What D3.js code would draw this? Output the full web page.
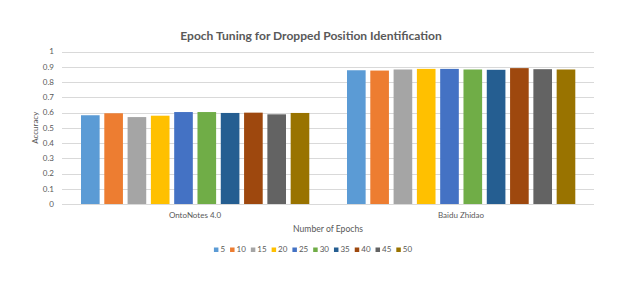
<!DOCTYPE html>
<html>
<head>
<meta charset="utf-8">
<script src="https://cdn.jsdelivr.net/npm/d3@7"></script>
<style>
  html, body { margin: 0; padding: 0; background: #fff; }
  svg { display: block; font-family: "Lato", "Liberation Sans", sans-serif; }
</style>
</head>
<body>
<svg id="chart" width="623" height="282"></svg>
<script>
// ---- data ----
const categories = ["OntoNotes 4.0", "Baidu Zhidao"];
const seriesNames = ["5", "10", "15", "20", "25", "30", "35", "40", "45", "50"];
const ontoNotesValues = [0.582, 0.595, 0.570, 0.579, 0.603, 0.603, 0.597, 0.599, 0.588, 0.597];
const baiduValues = [0.877, 0.875, 0.882, 0.886, 0.886, 0.882, 0.880, 0.891, 0.884, 0.882];
const yTicks = [0, 0.1, 0.2, 0.3, 0.4, 0.5, 0.6, 0.7, 0.8, 0.9, 1];
const colors = ["#5B9BD5", "#ED7D31", "#A5A5A5", "#FFC000", "#4472C4", "#70AD47", "#255E91", "#9E480E", "#636363", "#997300"];
const title = "Epoch Tuning for Dropped Position Identification";
const xTitle = "Number of Epochs";
const yTitle = "Accuracy";

const valuesByCategory = [ontoNotesValues, baiduValues];

// ---- layout ----
const svg = d3.select("#chart");
const plot = { left: 62, right: 594, top: 51.5, bottom: 204 };
const textColor = "#595959";

function fitFont(sel, targetWidth, baseSize) {
  sel.attr("font-size", baseSize);
  const w = sel.node().getComputedTextLength();
  sel.attr("font-size", baseSize * targetWidth / w);
  return sel;
}

const y = d3.scaleLinear().domain([0, 1]).range([plot.bottom, plot.top]);
const x0 = d3.scaleBand().domain(categories).range([plot.left, plot.right]).paddingInner(0).paddingOuter(0);
const groupPad = 19;
const x1 = d3.scaleBand().domain(seriesNames)
  .range([groupPad, x0.bandwidth() - groupPad + 0.3]).paddingInner(0.2).paddingOuter(0);
const color = d3.scaleOrdinal().domain(seriesNames).range(colors);

// gridlines
svg.append("g").selectAll("line").data(yTicks).join("line")
  .attr("x1", plot.left).attr("x2", plot.right)
  .attr("y1", d => Math.round(y(d)) + 0.5).attr("y2", d => Math.round(y(d)) + 0.5)
  .attr("stroke", "#d9d9d9").attr("stroke-width", 1);

// y tick labels
svg.append("g").selectAll("text").data(yTicks).join("text")
  .attr("x", 54).attr("y", d => y(d)).attr("dy", "0.35em")
  .attr("text-anchor", "end").attr("font-size", 8).attr("fill", textColor)
  .text(d => d3.format("~g")(d));

// bars
const groups = svg.append("g").selectAll("g").data(categories).join("g")
  .attr("transform", d => `translate(${x0(d)},0)`);
groups.selectAll("rect")
  .data((c, i) => seriesNames.map((s, j) => ({ s, v: valuesByCategory[i][j] })))
  .join("rect")
  .attr("x", d => x1(d.s)).attr("width", x1.bandwidth())
  .attr("y", d => y(d.v)).attr("height", d => y(0) - y(d.v))
  .attr("fill", d => color(d.s));

// category labels
svg.append("g").selectAll("text").data(categories).join("text")
  .attr("x", d => x0(d) + x0.bandwidth() / 2).attr("y", 218)
  .attr("text-anchor", "middle").attr("font-size", 8).attr("fill", textColor)
  .text(d => d);

// title
fitFont(svg.append("text").attr("x", 311).attr("y", 39.5).attr("text-anchor", "middle")
  .attr("font-weight", "bold").attr("fill", textColor).text(title), 262, 13);

// x title
fitFont(svg.append("text").attr("x", 328).attr("y", 231.5).attr("text-anchor", "middle")
  .attr("fill", textColor).text(xTitle), 70, 9.5);

// y title
svg.append("text").attr("transform", `translate(37.5,${(plot.top + plot.bottom) / 2}) rotate(-90)`)
  .attr("text-anchor", "middle").attr("font-size", 8).attr("fill", textColor).text(yTitle);

// legend
const legend = svg.append("g");
let lx = 0;
seriesNames.forEach((s, i) => {
  const g = legend.append("g").attr("transform", `translate(${lx},0)`);
  g.append("rect").attr("x", 0).attr("y", -2).attr("width", 4.5).attr("height", 4.5).attr("fill", colors[i]);
  const t = g.append("text").attr("x", 6.5).attr("y", 0).attr("dy", "0.35em")
    .attr("font-size", 8).attr("fill", textColor).text(s);
  lx += 6.5 + t.node().getComputedTextLength() + 5;
});
const legendWidth = lx - 5;
legend.attr("transform", `translate(${313 - legendWidth / 2},249.5)`);
</script>
</body>
</html>
